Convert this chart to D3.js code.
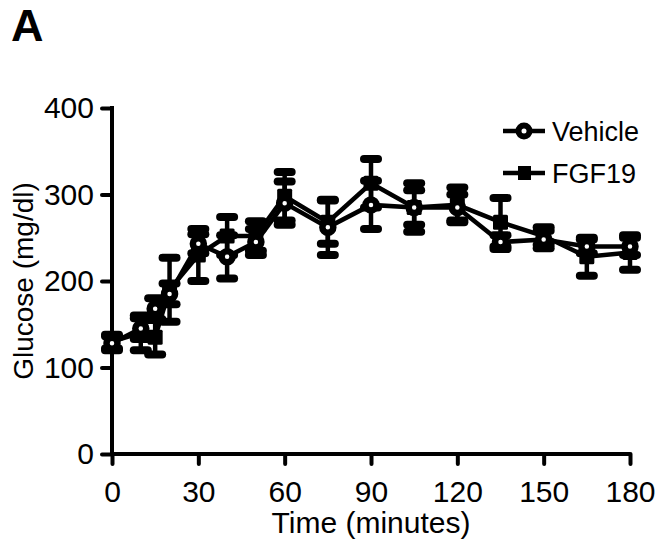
<!DOCTYPE html>
<html><head><meta charset="utf-8">
<script src="https://cdn.jsdelivr.net/npm/d3@7"></script>
<style>body{margin:0;background:#fff}svg{display:block}text{font-family:"Liberation Sans",Arial,sans-serif;fill:#000}</style>
</head><body>
<script>
const times = [0,10,15,20,30,40,50,60,75,90,105,120,135,150,165,180];
const vehicle = [128,145,168,185,243,228,245,290,262,288,285,285,245,248,240,240];
const vehicleErr = [8,12,12,12,11,25,15,25,32,28,20,15,8,10,8,10];
const fgf19 = [130,140,135,190,230,252,252,298,268,313,285,288,268,252,228,233];
const fgf19Err = [8,20,20,37,30,22,17,28,25,28,28,20,28,10,22,20];
const xTicks = [0,30,60,90,120,150,180];
const yTicks = [0,100,200,300,400];
const seriesNames = ["Vehicle","FGF19"];

const W=655,H=546;
const svg=d3.select("body").append("svg").attr("width",W).attr("height",H);
const x=d3.scaleLinear().domain([0,180]).range([112,630]);
const y=d3.scaleLinear().domain([0,400]).range([454,108]);

svg.append("text").attr("x",11).attr("y",41).attr("font-size",45).attr("font-weight","bold").text("A");

const xAxis=svg.append("g").attr("transform",`translate(0,${y(0)})`)
  .call(d3.axisBottom(x).tickValues(xTicks).tickSize(10).tickPadding(17));
const yAxis=svg.append("g").attr("transform",`translate(${x(0)},0)`)
  .call(d3.axisLeft(y).tickValues(yTicks).tickSize(10).tickPadding(8));
[xAxis,yAxis].forEach(g=>{
  g.select(".domain").remove();
  g.selectAll(".tick line").attr("stroke","#000").attr("stroke-width",4).attr("stroke-linecap","round");
  g.selectAll(".tick text").attr("font-size",30).attr("font-family","Liberation Sans, Arial, sans-serif").attr("fill","#000");
});
svg.append("line").attr("x1",x(0)).attr("x2",x(180)).attr("y1",y(0)).attr("y2",y(0)).attr("stroke","#000").attr("stroke-width",4);
svg.append("line").attr("x1",x(0)).attr("x2",x(0)).attr("y1",y(0)).attr("y2",y(400)-2).attr("stroke","#000").attr("stroke-width",4);

svg.append("text").attr("x",(x(0)+x(180))/2).attr("y",533).attr("text-anchor","middle").attr("font-size",30).text("Time (minutes)");
svg.append("text").attr("transform",`translate(33,${y(200)}) rotate(-90)`).attr("text-anchor","middle").attr("font-size",28).text("Glucose (mg/dl)");

function drawSeries(vals,errs,type){
  const g=svg.append("g");
  const pts=times.map((t,i)=>({t,v:vals[i],e:errs[i]}));
  g.selectAll("line.eb").data(pts).enter().append("line")
    .attr("x1",d=>x(d.t)).attr("x2",d=>x(d.t)).attr("y1",d=>y(d.v+d.e)).attr("y2",d=>y(d.v-d.e))
    .attr("stroke","#000").attr("stroke-width",4.5);
  [1,-1].forEach(s=>{
    g.selectAll(null).data(pts).enter().append("line")
      .attr("x1",d=>x(d.t)-7).attr("x2",d=>x(d.t)+7)
      .attr("y1",d=>y(d.v+s*d.e)).attr("y2",d=>y(d.v+s*d.e))
      .attr("stroke","#000").attr("stroke-width",8).attr("stroke-linecap","round");
  });
  g.append("path").datum(pts).attr("fill","none").attr("stroke","#000").attr("stroke-width",4.5)
    .attr("d",d3.line().x(d=>x(d.t)).y(d=>y(d.v)));
  if(type==="circle"){
    g.selectAll("circle").data(pts).enter().append("circle")
      .attr("cx",d=>x(d.t)).attr("cy",d=>y(d.v)).attr("r",5.5)
      .attr("fill","#fff").attr("stroke","#000").attr("stroke-width",6.5);
  } else {
    g.selectAll("rect").data(pts).enter().append("rect")
      .attr("x",d=>x(d.t)-7.5).attr("y",d=>y(d.v)-7.5).attr("width",15).attr("height",15).attr("rx",1.5)
      .attr("fill","#000");
  }
}
drawSeries(fgf19,fgf19Err,"square");
drawSeries(vehicle,vehicleErr,"circle");

const leg=[{name:seriesNames[0],type:"circle",yy:131},{name:seriesNames[1],type:"square",yy:173}];
leg.forEach(l=>{
  svg.append("line").attr("x1",503).attr("x2",545).attr("y1",l.yy).attr("y2",l.yy).attr("stroke","#000").attr("stroke-width",4.5);
  if(l.type==="circle") svg.append("circle").attr("cx",524).attr("cy",l.yy).attr("r",5.5).attr("fill","#fff").attr("stroke","#000").attr("stroke-width",6);
  else svg.append("rect").attr("x",518).attr("y",l.yy-7).attr("width",13).attr("height",14).attr("fill","#000");
  svg.append("text").attr("x",552).attr("y",l.yy+10).attr("font-size",27).text(l.name);
});
</script>
</body></html>
